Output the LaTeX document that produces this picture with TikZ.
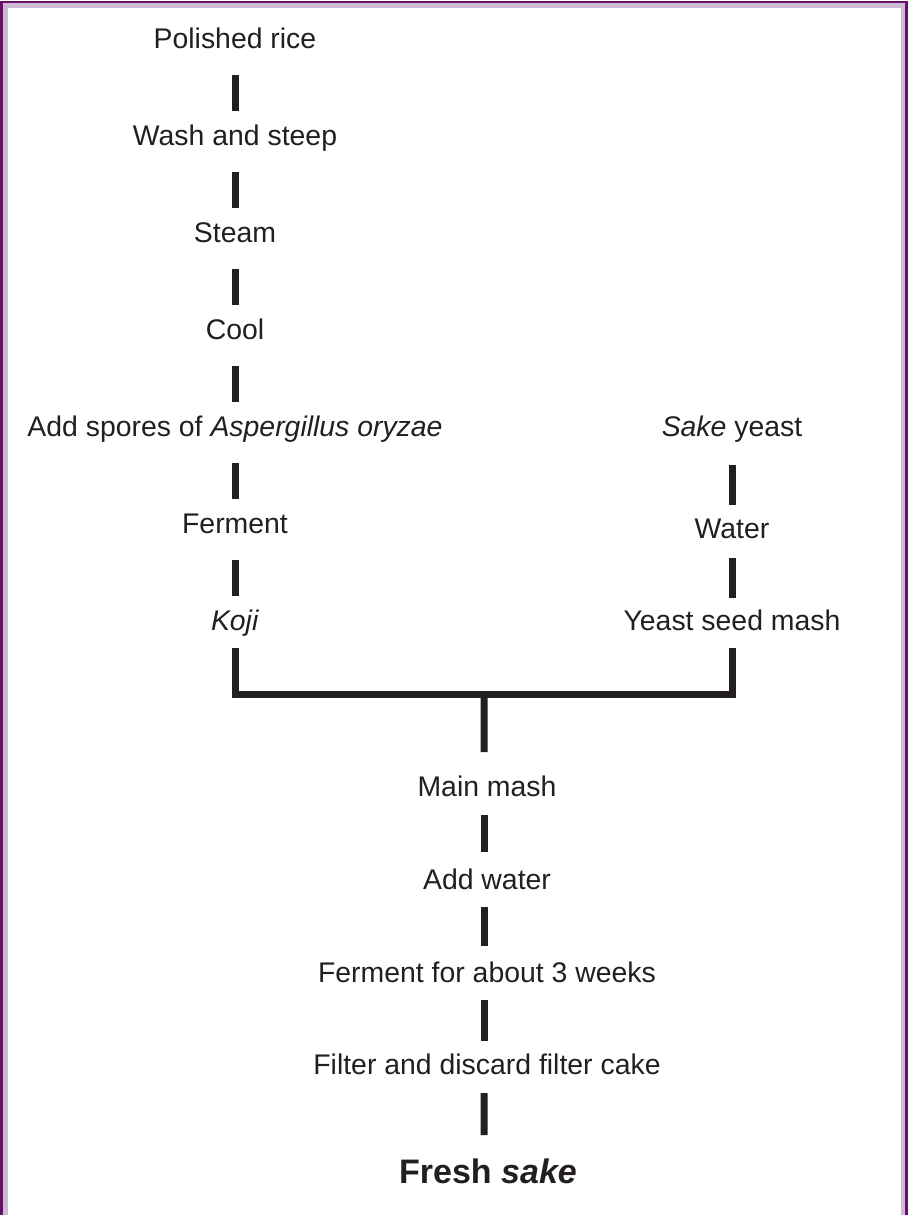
\documentclass[tikz,border=0pt]{standalone}
\usepackage{fontspec}
\setmainfont{Liberation Sans}
\definecolor{ink}{RGB}{35,31,32}
\definecolor{framedark}{RGB}{104,16,104}
\definecolor{framelight}{RGB}{205,186,214}
\begin{document}
\begin{tikzpicture}[x=1bp,y=-1bp,
  lbl/.style={anchor=base, inner sep=0pt, text=ink, font=\fontsize{28.4bp}{34bp}\selectfont},
  title/.style={anchor=base, inner sep=0pt, text=ink, font=\fontsize{34bp}{40bp}\selectfont\bfseries},
  bar/.style={draw=ink, line width=7bp, line cap=butt, line join=miter}]
\useasboundingbox (0,0) rectangle (908,1215);
\fill[framedark] (0.5,0.5) rectangle (907.5,1220);
\fill[framelight] (3,3) rectangle (905,1220);
\fill[white] (7.5,7.5) rectangle (900.5,1220);
% left column
\node[lbl] (rice) at (235,48) {Polished rice};
\node[lbl] (wash) at (235,145) {Wash and steep};
\node[lbl] (steam) at (235,242) {Steam};
\node[lbl] (cool) at (235,339) {Cool};
\node[lbl] (spores) at (235,436) {Add spores of \textit{Aspergillus oryzae}};
\node[lbl] (ferm) at (235,533) {Ferment};
\node[lbl] (koji) at (235,630) {\textit{Koji}};
% right column
\node[lbl] (yeast) at (732,436) {\textit{Sake} yeast};
\node[lbl] (water) at (732,538) {Water};
\node[lbl] (seed) at (732,630) {Yeast seed mash};
% bottom column
\coordinate (join) at (484,694);
\node[lbl] (main) at (487,796) {Main mash};
\node[lbl] (addw) at (487,889) {Add water};
\node[lbl] (ferm3) at (487,982) {Ferment for about 3 weeks};
\node[lbl] (filter) at (487,1074) {Filter and discard filter cake};
\node[title] (fresh) at (488,1183) {Fresh \textit{sake}};
% bars
\draw[bar] ([yshift=-27bp]rice.base) -- ([yshift=34bp]wash.base);
\draw[bar] ([yshift=-27bp]wash.base) -- ([yshift=34bp]steam.base);
\draw[bar] ([yshift=-27bp]steam.base) -- ([yshift=34bp]cool.base);
\draw[bar] ([yshift=-27bp]cool.base) -- ([yshift=34bp]spores.base);
\draw[bar] ([yshift=-27bp]spores.base) -- ([yshift=34bp]ferm.base);
\draw[bar] ([yshift=-27bp]ferm.base) -- ([yshift=34bp]koji.base);
\draw[bar] ([yshift=-29bp]yeast.base) -- ([yshift=33bp]water.base);
\draw[bar] ([yshift=-20bp]water.base) -- ([yshift=32bp]seed.base);
\draw[bar] ([yshift=-18bp]koji.base) |- (join) -| ([yshift=-18bp]seed.base);
\draw[bar] (join) -- ([xshift=-3bp,yshift=44bp]main.base);
\draw[bar] ([xshift=-3bp,yshift=-19bp]main.base) -- ([xshift=-3bp,yshift=37bp]addw.base);
\draw[bar] ([xshift=-3bp,yshift=-18bp]addw.base) -- ([xshift=-3bp,yshift=36bp]ferm3.base);
\draw[bar] ([xshift=-3bp,yshift=-18bp]ferm3.base) -- ([xshift=-3bp,yshift=33bp]filter.base);
\draw[bar] ([xshift=-3bp,yshift=-19bp]filter.base) -- ([xshift=-4bp,yshift=48bp]fresh.base);
\end{tikzpicture}
\end{document}
